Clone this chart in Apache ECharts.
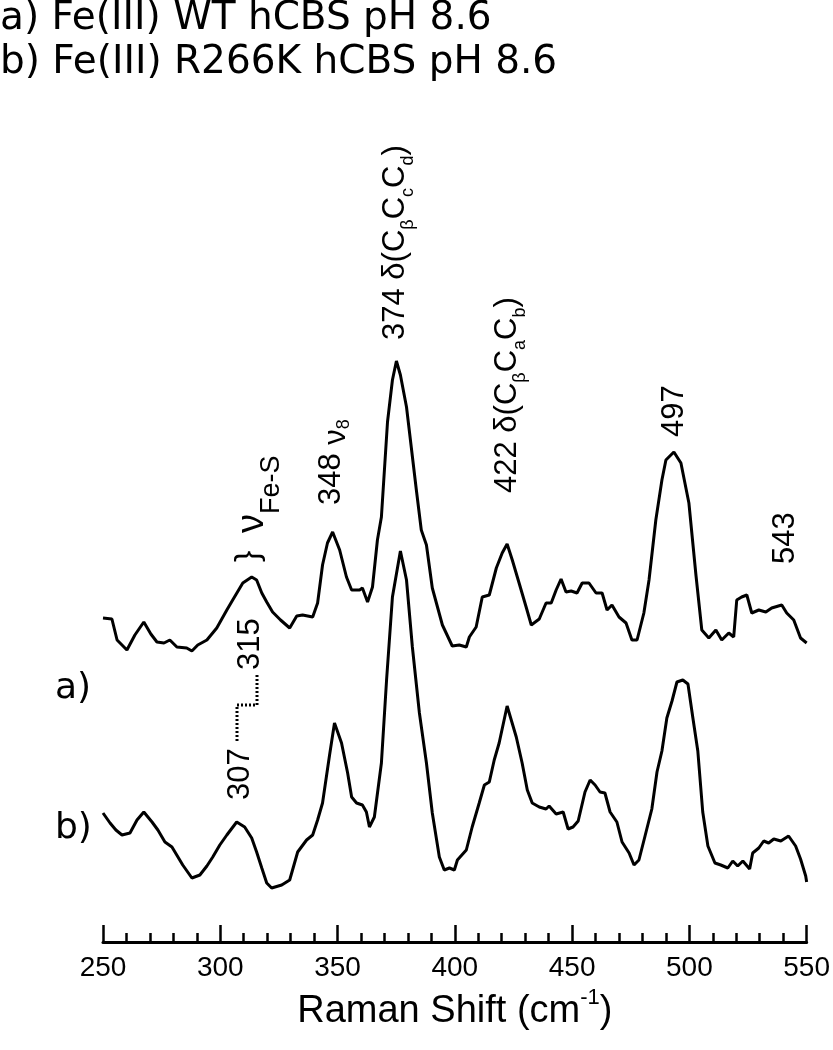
<!DOCTYPE html>
<html>
<head>
<meta charset="utf-8">
<script src="https://cdn.jsdelivr.net/npm/echarts@6/dist/echarts.min.js"></script>
<style>
html,body{margin:0;padding:0;background:#fff;}
#chart{width:833px;height:1050px;}
</style>
</head>
<body>
<div id="chart"></div>
<script>
// ---- data (Raman shift in cm-1, intensity in arbitrary units) ----
const waveA = [250.0,253.8,256.0,260.2,263.6,267.4,270.4,273.0,276.0,278.5,281.5,285.7,287.9,290.4,294.3,298.5,302.8,305.3,309.6,313.4,315.5,317.7,319.8,322.3,325.7,329.6,332.6,335.1,339.4,341.5,343.6,345.7,347.9,350.9,353.8,356.0,359.4,360.6,362.8,364.9,367.0,368.7,371.3,373.4,375.1,376.8,379.4,383.6,385.7,387.9,390.4,394.7,398.9,401.9,404.9,406.2,409.1,411.7,414.7,417.7,420.2,422.3,424.5,427.4,430.4,432.6,436.0,438.9,441.1,443.2,445.3,447.4,449.6,452.1,454.3,457.2,460.2,462.8,464.9,467.0,470.0,473.0,475.5,477.7,480.6,482.8,485.7,488.3,490.0,493.4,496.4,499.8,502.8,505.3,508.3,511.3,513.8,516.8,518.9,520.2,522.3,524.5,526.6,529.6,532.6,535.1,539.4,541.5,544.5,547.4,550.0];
const intA  = [324,323,302,292,307,320,308,300,299,302,295,294,291,297,302,314,332,342,359,365,362,349,340,330,322,314,326,327,325,339,377,399,410,392,365,352,352,354,340,355,402,425,520,562,581,567,535,452,412,397,354,317,296,297,295,305,315,345,347,374,389,398,382,359,335,317,323,339,339,352,363,350,351,349,359,359,349,349,332,337,325,319,302,302,329,362,422,462,482,490,479,439,367,312,304,312,302,309,305,342,345,347,329,332,330,334,337,329,322,304,299];
const waveB = [250.0,253.0,255.5,258.1,261.5,264.5,267.4,270.9,273.4,276.4,279.4,284.0,287.9,291.3,294.3,296.8,299.8,302.8,307.0,310.4,313.4,315.5,317.7,319.8,321.9,326.2,329.6,333.0,336.8,339.4,341.5,343.6,346.6,348.7,351.7,354.3,356.0,358.1,360.6,362.3,363.6,365.7,368.7,370.9,373.4,376.8,379.4,381.9,384.9,387.9,390.4,393.4,395.5,397.7,399.8,401.1,404.9,407.4,410.4,412.6,414.7,416.8,418.9,422.3,426.2,428.7,430.9,433.0,436.0,438.9,440.2,443.2,446.2,448.3,450.4,452.6,455.5,457.7,459.8,461.9,464.0,466.2,469.1,471.3,474.3,476.4,478.5,481.1,484.0,486.2,488.3,490.4,492.6,494.7,497.2,499.4,501.5,503.6,505.7,507.9,510.9,513.4,516.4,518.5,520.6,522.8,525.7,527.0,529.6,531.7,533.8,536.0,539.0,542.3,545.3,547.4,549.6,550.0];
const intB  = [129,119,112,107,109,122,130,120,112,100,95,77,64,67,76,85,97,107,120,115,104,90,74,59,54,57,62,90,102,107,122,139,187,219,199,169,145,139,137,130,115,125,179,262,345,391,362,295,229,179,129,85,72,74,72,82,92,115,139,157,160,182,199,236,205,179,152,139,135,133,136,128,130,113,115,121,150,162,157,150,149,130,120,100,89,77,82,106,133,170,191,224,241,260,262,258,224,191,130,96,79,77,74,81,76,81,73,89,94,101,99,103,101,106,96,83,66,60];
const xTicks = {min: 250, max: 550, interval: 50};
const titleLines = ['a) Fe(III) WT hCBS pH 8.6', 'b) Fe(III) R266K hCBS pH 8.6'];
const xName = 'Raman Shift (cm';
const xNameSup = '-1';

const chart = echarts.init(document.getElementById('chart'), null, {renderer: 'canvas'});
const SANS = '"Liberation Sans", Arial, sans-serif';
const NARROW = '"Liberation Sans Narrow", "Liberation Sans", Arial, sans-serif';
const HUM = '"DejaVu Sans", Verdana, sans-serif';

const mainF = 31, subF = 18;
const richLbl = {
  m: {fontSize: mainF, lineHeight: mainF, fontFamily: SANS, color: '#000', verticalAlign: 'top'},
  s: {fontSize: subF, lineHeight: subF, fontFamily: SANS, color: '#000', verticalAlign: 'top', padding: [19, 0, 0, 0]},
  g: {fontSize: 38, lineHeight: 38, fontFamily: SANS, color: '#000', verticalAlign: 'top'},
  f: {fontSize: 27, lineHeight: 27, fontFamily: SANS, color: '#000', verticalAlign: 'top', padding: [25, 0, 0, 0]},
  n: {fontSize: mainF, lineHeight: mainF, fontFamily: SANS, color: '#000', verticalAlign: 'top', padding: [5, 0, 0, 0]},
  b: {fontSize: 34, lineHeight: 34, fontFamily: SANS, color: '#000', verticalAlign: 'top'}
};
// rotated (bottom-to-top) label; cx = centre of main glyphs, by = bottom end
function rot(text, cx, by, f) {
  return {
    type: 'text', x: cx - 0.49 * (f || mainF), y: by, rotation: Math.PI / 2,
    style: {text: text, rich: richLbl, font: (f || mainF) + 'px ' + SANS, fill: '#000', align: 'left', verticalAlign: 'top'}
  };
}

const graphics = [
  {type: 'text', left: 0, top: -1, style: {text: titleLines[0], font: '39px ' + HUM, fill: '#000'}},
  {type: 'text', left: 0, top: 43, style: {text: titleLines[1], font: '39px ' + HUM, fill: '#000'}},
  {type: 'text', x: 55, y: 671, style: {text: 'a)', font: '36px ' + HUM, fill: '#000'}},
  {type: 'text', x: 55, y: 811, style: {text: 'b)', font: '36px ' + HUM, fill: '#000'}},
  rot('{b|}}', 248, 562, 34),
  rot('{g|ν}{f|Fe-S}', 252 - 0.49 * 38 + 0.49 * mainF, 533, mainF),
  rot('{m|348 }{n|ν}{s|8}', 331, 505),
  rot('{m|374 δ(C}{s|β}{m|C}{s|c}{m|C}{s|d}{m|)}', 395, 340),
  rot('{m|422 δ(C}{s|β}{m|C}{s|a}{m|C}{s|b}{m|)}', 507, 493),
  rot('{m|497}', 674, 437),
  rot('{m|543}', 785, 564),
  rot('{m|315}', 250, 670),
  rot('{m|307}', 240, 800),
  {type: 'polyline', shape: {points: [[237, 741], [237, 705], [257, 705], [257, 673]]},
   style: {stroke: '#000', lineWidth: 3, lineDash: [2, 2], fill: null}}
];

chart.setOption({
  animation: false,
  backgroundColor: '#fff',
  grid: {left: 103, right: 25, top: 300, bottom: 108, containLabel: false},
  xAxis: {
    type: 'value', min: xTicks.min, max: xTicks.max, interval: xTicks.interval,
    name: '{t|' + xName + '}{p|' + xNameSup + '}{t|)}',
    nameLocation: 'middle', nameGap: 42,
    nameTextStyle: {
      rich: {
        t: {fontSize: 38, lineHeight: 44, fontFamily: SANS, color: '#000', verticalAlign: 'bottom'},
        p: {fontSize: 22, lineHeight: 44, fontFamily: SANS, color: '#000', verticalAlign: 'top'}
      }
    },
    axisLine: {show: true, lineStyle: {color: '#000', width: 3}},
    axisTick: {show: true, inside: true, length: 17, lineStyle: {color: '#000', width: 2.5}},
    minorTick: {show: true, splitNumber: 5, length: 9, lineStyle: {color: '#000', width: 2.5}},
    axisLabel: {color: '#000', fontSize: 28, fontFamily: NARROW, margin: 12},
    splitLine: {show: false}
  },
  yAxis: {type: 'value', min: 0, max: 642, show: false, splitLine: {show: false}},
  series: [
    {type: 'line', name: 'a', data: waveA.map((x, i) => [x, intA[i]]), showSymbol: false,
     lineStyle: {color: '#000', width: 3}, silent: true},
    {type: 'line', name: 'b', data: waveB.map((x, i) => [x, intB[i]]), showSymbol: false,
     lineStyle: {color: '#000', width: 3}, silent: true}
  ],
  graphic: graphics
});
</script>
</body>
</html>
